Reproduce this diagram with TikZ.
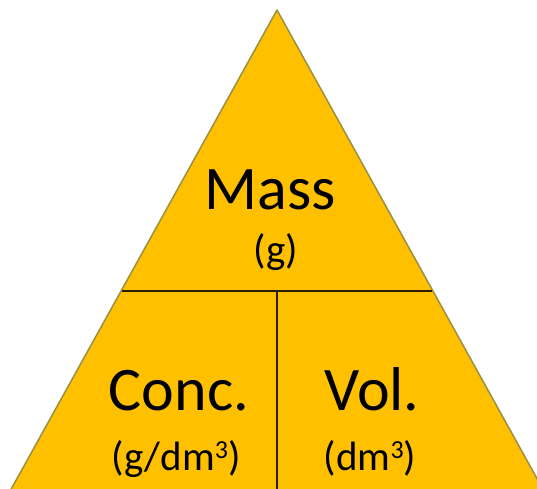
\documentclass[tikz,border=0pt]{standalone}
\usepackage{fontspec}
\setmainfont{Carlito}
\definecolor{gold}{HTML}{FFC000}
\definecolor{edge}{HTML}{9A9040}
\definecolor{ink}{HTML}{2B1D00}
\newcommand{\cubed}{\raisebox{12pt}{\fontsize{26}{26}\selectfont 3}}
\begin{document}
\begin{tikzpicture}[x=1pt,y=-1pt,
  big/.style={anchor=base,font=\fontsize{62}{70}\selectfont,text=black,inner sep=0pt},
  unit/.style={anchor=base,font=\fontsize{41}{48}\selectfont,text=black,inner sep=0pt},
  divider/.style={draw=ink,line width=2.8pt}]
\useasboundingbox (0,0) rectangle (537,488);
\clip (0,0) rectangle (537,488);
\coordinate (apex) at (277,10);
\coordinate (bl) at (-6,520);
\coordinate (br) at (560,520);
\filldraw[fill=gold,draw=edge,line width=1.5pt,line join=round] (apex) -- (bl) -- (br) -- cycle;
\coordinate (hl) at (122,291);
\coordinate (hr) at (432,291);
\coordinate (vt) at (277,291);
\coordinate (vb) at (277,490);
\draw[divider] (hl) -- (hr);
\draw[divider] (vt) -- (vb);
\node[big] (mass) at (270,209) {Mass};
\node[unit] (g) at (276,263) {(g)};
\node[big] (conc) at (179,410) {Conc.};
\node[unit] (gdm) at (176,470) {(g/dm\cubed)};
\node[big] (vol) at (372,410) {Vol.};
\node[unit] (dm) at (370,470) {(dm\cubed)};
\end{tikzpicture}
\end{document}
